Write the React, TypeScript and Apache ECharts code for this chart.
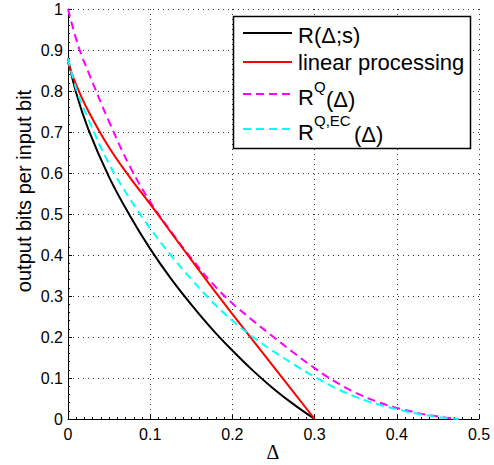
import React, { useEffect, useRef } from 'react';
import * as echarts from 'echarts';

// R(Δ;s)
const blackX = [0, 0.01, 0.025, 0.05, 0.075, 0.1, 0.125, 0.15, 0.175, 0.2, 0.225, 0.25, 0.275, 0.3];
const blackY = [0.88, 0.795, 0.705, 0.59, 0.497, 0.415, 0.343, 0.279, 0.22, 0.167, 0.118, 0.074, 0.035, 0];

// linear processing
const redX = [0, 0.01, 0.025, 0.05, 0.075, 0.1, 0.125, 0.15, 0.175, 0.2, 0.25, 0.3];
const redY = [0.87, 0.815, 0.75, 0.662, 0.59, 0.524, 0.456, 0.388, 0.321, 0.256, 0.128, 0];

// R^Q(Δ)
const magX = [0, 0.0125, 0.025, 0.05, 0.075, 0.1, 0.125, 0.15, 0.175, 0.2, 0.225, 0.25, 0.275, 0.3, 0.325, 0.35, 0.375, 0.4, 0.425, 0.45, 0.475];
const magY = [1.0, 0.91, 0.845, 0.725, 0.617, 0.53, 0.458, 0.392, 0.332, 0.282, 0.24, 0.2, 0.161, 0.124, 0.091, 0.064, 0.043, 0.027, 0.015, 0.006, 0];

// R^{Q,EC}(Δ)
const cyanX = [0, 0.01, 0.025, 0.05, 0.075, 0.1, 0.125, 0.15, 0.175, 0.2, 0.225, 0.25, 0.275, 0.3, 0.325, 0.35, 0.375, 0.4, 0.425, 0.45, 0.475];
const cyanY = [0.88, 0.805, 0.73, 0.622, 0.538, 0.465, 0.4, 0.341, 0.287, 0.24, 0.2, 0.165, 0.133, 0.103, 0.076, 0.054, 0.037, 0.024, 0.013, 0.005, 0];

const xTicks = { min: 0, max: 0.5, interval: 0.1 };
const yTicks = { min: 0, max: 1, interval: 0.1 };

const SANS = '"Liberation Sans", Arial, Helvetica, sans-serif';
const SERIF = '"Liberation Serif", "Times New Roman", serif';

const zip = (xs: number[], ys: number[]) => xs.map((x, i) => [x, ys[i]]);

export default function App() {
  const ref = useRef<HTMLDivElement>(null);
  useEffect(() => {
    const chart = echarts.init(ref.current!, null, { renderer: 'svg' });
    const axisCommon = {
      type: 'value',
      axisLine: { show: true, onZero: false, lineStyle: { color: '#000', width: 1 } },
      axisTick: { show: true, inside: true, length: 4, lineStyle: { color: '#000' } },
      splitLine: { show: true, lineStyle: { color: '#333', width: 1, type: [1, 4] } },
      axisLabel: { fontSize: 16, color: '#000', fontFamily: SANS },
    };
    const txt = (text: string, x: number, y: number, size: number, extra: any = {}) => ({
      type: 'text',
      x,
      y,
      z: 100,
      style: { text, fill: '#000', fontSize: size, fontFamily: SANS, align: 'left', verticalAlign: 'middle', ...extra },
    });
    const sample = (y: number, color: string, dashed: boolean) => ({
      type: 'line',
      z: 100,
      shape: { x1: 243, y1: y, x2: 292, y2: y },
      style: { stroke: color, lineWidth: 2, lineDash: dashed ? [8, 5] : null },
    });
    chart.setOption({
      animation: false,
      grid: { left: 68, right: 15, top: 9, bottom: 46, containLabel: false },
      xAxis: {
        ...axisCommon,
        ...xTicks,
        minorTick: { show: true, splitNumber: 10, length: 2, lineStyle: { color: '#000' } },
        axisLabel: { ...axisCommon.axisLabel, margin: 7 },
      },
      yAxis: {
        ...axisCommon,
        ...yTicks,
        minorTick: { show: true, splitNumber: 5, length: 2, lineStyle: { color: '#000' } },
        axisLabel: { ...axisCommon.axisLabel, margin: 5 },
      },
      series: [
        { name: 'R(Δ;s)', type: 'line', data: zip(blackX, blackY), symbol: 'none', smooth: 0.4, z: 2, lineStyle: { color: '#000', width: 2 } },
        { name: 'R^Q(Δ)', type: 'line', data: zip(magX, magY), symbol: 'none', smooth: 0.4, z: 3, lineStyle: { color: '#ff00ff', width: 2, type: [8, 5] } },
        { name: 'linear processing', type: 'line', data: zip(redX, redY), symbol: 'none', smooth: 0.4, z: 4, lineStyle: { color: '#ff0000', width: 2 } },
        { name: 'R^{Q,EC}(Δ)', type: 'line', data: zip(cyanX, cyanY), symbol: 'none', smooth: 0.4, z: 5, lineStyle: { color: '#00ffff', width: 2, type: [8, 5] } },
      ],
      graphic: [
        { type: 'rect', z: 99, shape: { x: 233.5, y: 16.5, width: 237, height: 132 }, style: { fill: '#fff', stroke: '#000', lineWidth: 1.5 } },
        sample(33, '#000', false),
        sample(62, '#ff0000', false),
        sample(94, '#ff00ff', true),
        sample(129, '#00ffff', true),
        txt('R(Δ;s)', 298, 35, 22),
        txt('linear processing', 298, 62, 22),
        txt('R', 298, 97, 22),
        txt('Q', 314, 86, 15),
        txt('(Δ)', 326, 99, 22),
        txt('R', 298, 132, 22),
        txt('Q,EC', 314, 120, 15),
        txt('(Δ)', 354, 134, 22),
        {
          type: 'text', x: 24, y: 191, rotation: Math.PI / 2, z: 100,
          style: { text: 'output bits per input bit', fill: '#000', fontSize: 20, fontFamily: SANS, align: 'center', verticalAlign: 'middle' },
        },
        {
          type: 'text', x: 273, y: 452, z: 100,
          style: { text: 'Δ', fill: '#000', fontSize: 20, fontFamily: SERIF, align: 'center', verticalAlign: 'middle' },
        },
      ],
    });
    return () => chart.dispose();
  }, []);
  return <div ref={ref} style={{ position: 'absolute', left: 0, top: 0, width: 494, height: 465 }} />;
}
